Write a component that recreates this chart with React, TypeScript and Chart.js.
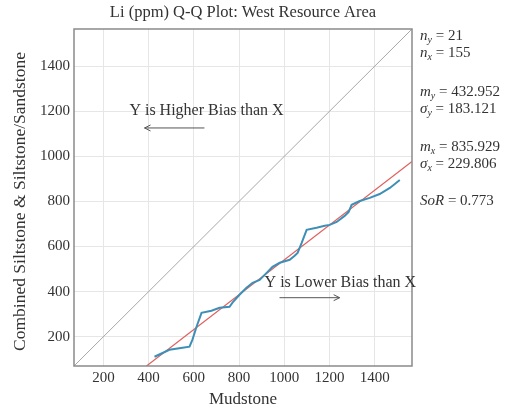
import React, { useEffect, useRef } from "react";
import { Chart, registerables } from "chart.js";

Chart.register(...registerables);

// Quantile pairs: Mudstone (x) vs combined Siltstone & Siltstone/Sandstone (y), Li ppm
const mudstoneQuantiles = [
  426, 492, 550, 581, 594, 612, 634, 678, 714, 758, 771, 802, 833, 860, 891, 922, 948, 980,
  1024, 1046, 1059, 1077, 1099, 1143, 1179, 1201, 1232, 1267, 1285, 1298, 1334, 1378, 1422,
  1467, 1511,
];
const siltSandQuantiles = [
  111, 142, 151, 156, 187, 244, 306, 315, 328, 333, 351, 386, 417, 439, 452, 483, 510, 528,
  541, 559, 572, 616, 674, 683, 692, 696, 709, 736, 754, 785, 802, 816, 833, 860, 895,
];

// Summary statistics shown beside the plot
const nY = "21";
const nX = "155";
const meanY = "432.952";
const sdY = "183.121";
const meanX = "835.929";
const sdX = "229.806";
const slopeOfRegression = 0.773;
const regressionIntercept = -232;

// Axis range and tick labels (shared by both axes)
const axisMin = 70;
const axisMax = 1565;
const tickValues = [200, 400, 600, 800, 1000, 1200, 1400];

// Bias annotations (data coordinates)
const higherBiasLabel = { text: "Y is Higher Bias than X", x: 315, y: 1201 };
const higherBiasArrow = { from: 647, to: 382, y: 1126 };
const lowerBiasLabel = { text: "Y is Lower Bias than X", x: 913, y: 439 };
const lowerBiasArrow = { from: 979, to: 1245, y: 373 };

const SERIF = "'Liberation Serif', 'Times New Roman', serif";
const TEXT = "#333333";

function drawArrow(ctx: CanvasRenderingContext2D, x1: number, x2: number, y: number) {
  const dir = Math.sign(x2 - x1);
  ctx.save();
  ctx.strokeStyle = "#555555";
  ctx.lineWidth = 1;
  ctx.beginPath();
  ctx.moveTo(x1, y);
  ctx.lineTo(x2, y);
  ctx.moveTo(x2 - dir * 6, y - 3);
  ctx.lineTo(x2, y);
  ctx.lineTo(x2 - dir * 6, y + 3);
  ctx.stroke();
  ctx.restore();
}

function drawStat(
  ctx: CanvasRenderingContext2D,
  x: number,
  y: number,
  sym: string,
  sub: string,
  value: string
) {
  ctx.textBaseline = "middle";
  ctx.textAlign = "left";
  ctx.font = `italic 15px ${SERIF}`;
  ctx.fillText(sym, x, y);
  let cx = x + ctx.measureText(sym).width;
  if (sub) {
    ctx.font = `italic 10px ${SERIF}`;
    ctx.fillText(sub, cx, y + 4);
    cx += ctx.measureText(sub).width;
  }
  ctx.font = `15px ${SERIF}`;
  ctx.fillText(" = " + value, cx, y);
}

const decorations = {
  id: "decorations",
  afterDatasetsDraw(chart: any) {
    const { ctx, chartArea } = chart;
    ctx.save();
    ctx.strokeStyle = "#8a8a8a";
    ctx.lineWidth = 1.5;
    ctx.strokeRect(
      chartArea.left,
      chartArea.top,
      chartArea.right - chartArea.left,
      chartArea.bottom - chartArea.top
    );
    ctx.restore();
  },
  afterDraw(chart: any) {
    const { ctx, chartArea, scales } = chart;
    const sx = scales.x;
    const sy = scales.y;
    ctx.save();
    ctx.fillStyle = TEXT;

    // Title
    ctx.font = `16.5px ${SERIF}`;
    ctx.textAlign = "center";
    ctx.textBaseline = "middle";
    ctx.fillText(
      "Li (ppm) Q-Q Plot: West Resource Area",
      (chartArea.left + chartArea.right) / 2,
      chartArea.top - 16
    );

    // Axis titles
    ctx.font = `17px ${SERIF}`;
    ctx.fillText("Mudstone", (chartArea.left + chartArea.right) / 2, chartArea.bottom + 34);
    ctx.save();
    ctx.translate(20, (chartArea.top + chartArea.bottom) / 2 + 4);
    ctx.rotate(-Math.PI / 2);
    ctx.font = `17.5px ${SERIF}`;
    ctx.fillText("Combined Siltstone & Siltstone/Sandstone", 0, 0);
    ctx.restore();

    // Bias annotations
    ctx.font = `16px ${SERIF}`;
    ctx.textAlign = "left";
    ctx.fillText(higherBiasLabel.text, sx.getPixelForValue(higherBiasLabel.x), sy.getPixelForValue(higherBiasLabel.y));
    ctx.fillText(lowerBiasLabel.text, sx.getPixelForValue(lowerBiasLabel.x), sy.getPixelForValue(lowerBiasLabel.y));
    drawArrow(
      ctx,
      sx.getPixelForValue(higherBiasArrow.from),
      sx.getPixelForValue(higherBiasArrow.to),
      sy.getPixelForValue(higherBiasArrow.y)
    );
    drawArrow(
      ctx,
      sx.getPixelForValue(lowerBiasArrow.from),
      sx.getPixelForValue(lowerBiasArrow.to),
      sy.getPixelForValue(lowerBiasArrow.y)
    );

    // Statistics column
    const tx = chartArea.right + 8;
    const t0 = chartArea.top;
    drawStat(ctx, tx, t0 + 7, "n", "y", nY);
    drawStat(ctx, tx, t0 + 24, "n", "x", nX);
    drawStat(ctx, tx, t0 + 63, "m", "y", meanY);
    drawStat(ctx, tx, t0 + 80, "\u03c3", "y", sdY);
    drawStat(ctx, tx, t0 + 118, "m", "x", meanX);
    drawStat(ctx, tx, t0 + 135, "\u03c3", "x", sdX);
    drawStat(ctx, tx, t0 + 172, "SoR", "", slopeOfRegression.toFixed(3));
    ctx.restore();
  },
};

export default function App() {
  const canvasRef = useRef<HTMLCanvasElement | null>(null);

  useEffect(() => {
    const canvas = canvasRef.current;
    if (!canvas) return;

    const qq = mudstoneQuantiles.map((x, i) => ({ x, y: siltSandQuantiles[i] }));
    const fitY = (x: number) => slopeOfRegression * x + regressionIntercept;
    const fitStart = (axisMin - regressionIntercept) / slopeOfRegression;
    const fitLine = [
      { x: fitStart, y: fitY(fitStart) },
      { x: axisMax, y: fitY(axisMax) },
    ];
    const identity = [
      { x: axisMin, y: axisMin },
      { x: axisMax, y: axisMax },
    ];

    const tickFont = { family: SERIF, size: 15 };
    const setTicks = (scale: any) => {
      scale.ticks = tickValues.map((v) => ({ value: v }));
    };
    const plainLabel = (v: any) => String(v);

    const chart = new Chart(canvas, {
      type: "scatter",
      data: {
        datasets: [
          {
            label: "1:1",
            data: identity,
            showLine: true,
            borderColor: "#a8a8a8",
            borderWidth: 1,
            pointRadius: 0,
            clip: 0,
          },
          {
            label: "Q-Q",
            data: qq,
            showLine: true,
            borderColor: "#3d8fb8",
            borderWidth: 2,
            pointRadius: 0,
            clip: 0,
          },
          {
            label: "Fit",
            data: fitLine,
            showLine: true,
            borderColor: "#e0605e",
            borderWidth: 1.2,
            pointRadius: 0,
            clip: 0,
          },
        ],
      },
      options: {
        animation: false,
        responsive: false,
        layout: { padding: { top: 29, right: 111, left: 0, bottom: 0 } },
        plugins: {
          legend: { display: false },
          tooltip: { enabled: false },
          title: { display: false },
        },
        scales: {
          x: {
            type: "linear",
            min: axisMin,
            max: axisMax,
            afterBuildTicks: setTicks,
            afterFit: (s: any) => {
              s.height = 46;
            },
            grid: { color: "#e6e6e6", drawTicks: false },
            border: { display: false },
            ticks: {
              font: tickFont,
              color: TEXT,
              padding: 3,
              maxRotation: 0,
              autoSkip: false,
              callback: plainLabel,
            },
          },
          y: {
            type: "linear",
            min: axisMin,
            max: axisMax,
            afterBuildTicks: setTicks,
            afterFit: (s: any) => {
              s.width = 74;
            },
            grid: { color: "#e6e6e6", drawTicks: false },
            border: { display: false },
            ticks: { font: tickFont, color: TEXT, padding: 4, autoSkip: false, callback: plainLabel },
          },
        },
      },
      plugins: [decorations],
    });

    return () => chart.destroy();
  }, []);

  return (
    <div style={{ position: "fixed", left: 0, top: 0, width: 523, height: 412, background: "#fff" }}>
      <canvas ref={canvasRef} width={523} height={412} style={{ display: "block" }} />
    </div>
  );
}
